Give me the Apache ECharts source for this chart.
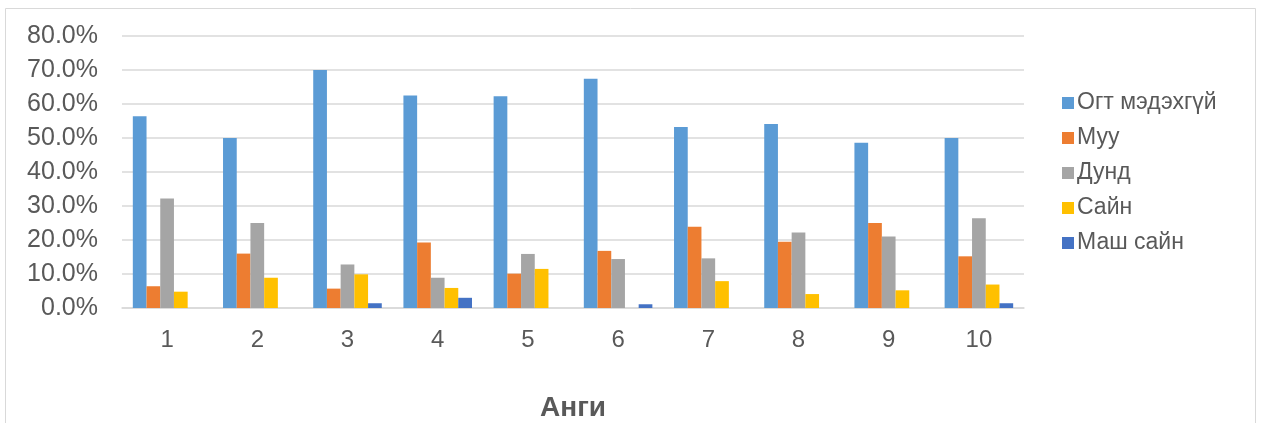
<!DOCTYPE html>
<html><head><meta charset="utf-8">
<script src="https://cdn.jsdelivr.net/npm/echarts@6/dist/echarts.min.js"></script>
<style>html,body{margin:0;padding:0;background:#fff}#c{width:1261px;height:423px}</style>
</head><body><div id="c"></div>
<script>
const categories = ['1','2','3','4','5','6','7','8','9','10'];
const seriesNames = ['Огт мэдэхгүй','Муу','Дунд','Сайн','Маш сайн'];
const ogtMedekhgui = [56.4, 50.0, 70.0, 62.5, 62.3, 67.4, 53.2, 54.1, 48.6, 50.0];
const muu          = [6.4, 16.0, 5.7, 19.3, 10.1, 16.8, 23.9, 19.5, 25.0, 15.2];
const dund         = [32.2, 25.0, 12.8, 8.9, 15.9, 14.4, 14.6, 22.2, 21.0, 26.4];
const sain         = [4.8, 8.9, 9.9, 5.9, 11.5, 0, 7.9, 4.1, 5.2, 6.9];
const mashSain     = [0, 0, 1.4, 3.0, 0, 1.1, 0, 0, 0, 1.4];
const colors = ['#5B9BD5','#ED7D31','#A5A5A5','#FFC000','#4472C4'];
const allData = [ogtMedekhgui, muu, dund, sain, mashSain];

const font = '"Liberation Sans", Arial, sans-serif';
const chart = echarts.init(document.getElementById('c'));
chart.setOption({
  animation: false,
  textStyle: { fontFamily: font },
  graphic: [{ type: 'rect', left: 3, top: 6, shape: { width: 1250, height: 430 },
    style: { fill: 'none', stroke: '#d9d9d9', lineWidth: 1 }, silent: true }],
  grid: { left: 122, right: 237, top: 36, bottom: 115, containLabel: false, outerBoundsMode: 'none' },
  legend: {
    orient: 'vertical', left: 1057, top: 86, itemWidth: 12, itemHeight: 12, itemGap: 11,
    icon: 'rect',
    textStyle: { fontSize: 23, color: '#595959', lineHeight: 24, fontFamily: font, padding: [0,0,0,-2] },
    data: seriesNames
  },
  xAxis: {
    type: 'category', data: categories,
    name: 'Анги', nameLocation: 'middle', nameGap: 86,
    nameTextStyle: { fontSize: 28, fontWeight: 'bold', color: '#595959', fontFamily: font },
    axisLine: { lineStyle: { color: '#d9d9d9', width: 1.5 } },
    axisTick: { show: false },
    axisLabel: { fontSize: 24, color: '#595959', margin: 20, fontFamily: font }
  },
  yAxis: {
    type: 'value', min: 0, max: 80, interval: 10,
    axisLine: { show: false }, axisTick: { show: false },
    splitLine: { lineStyle: { color: '#d9d9d9', width: 1.5 } },
    axisLabel: { fontSize: 25, color: '#595959', margin: 24, fontFamily: font,
      formatter: v => v.toFixed(1) + '%' }
  },
  series: seriesNames.map((n, i) => ({
    name: n, type: 'bar', data: allData[i],
    barGap: '0%', barCategoryGap: '24%',
    itemStyle: { color: colors[i] }
  }))
});
</script></body></html>
